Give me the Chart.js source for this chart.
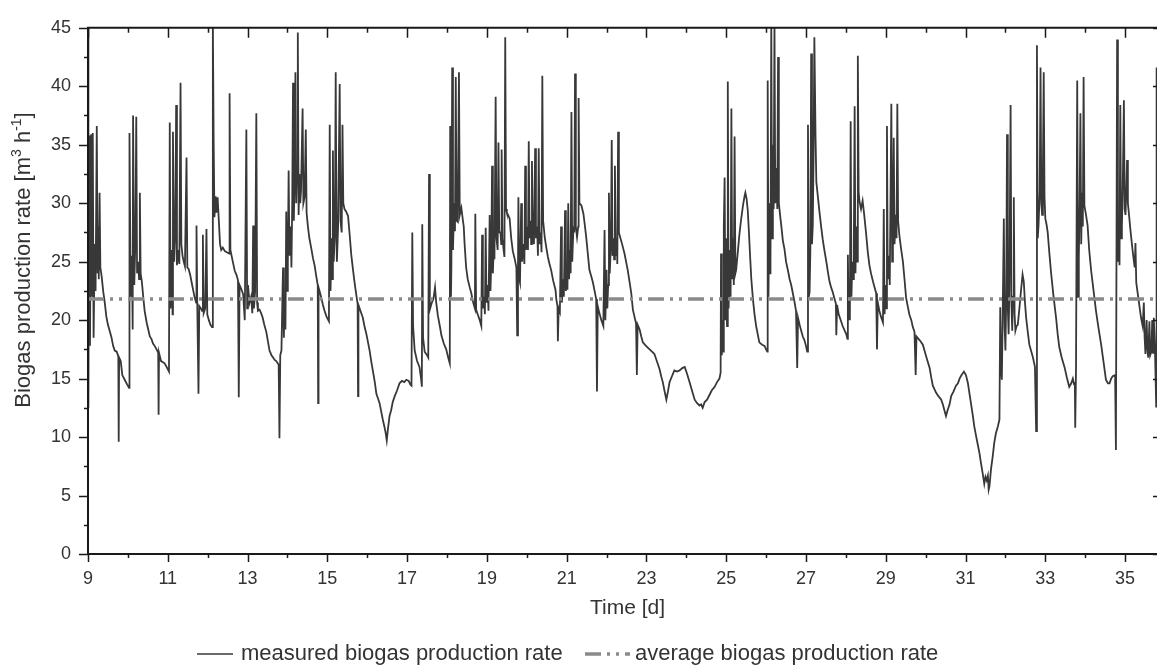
<!DOCTYPE html>
<html>
<head>
<meta charset="utf-8">
<script src="https://cdn.jsdelivr.net/npm/chart.js@4.4.1/dist/chart.umd.min.js"></script>
<style>
  html, body { margin: 0; padding: 0; background: #fff; }
  #wrap { width: 1159px; height: 666px; }
</style>
</head>
<body>
<div id="wrap"><canvas id="chart" width="1159" height="666"></canvas></div>
<script>
// ── data ──
const timeDays = [
  9.00, 9.01, 9.03, 9.05, 9.08, 9.10, 9.12, 9.14, 9.17, 9.19, 9.22, 9.24, 9.26, 9.27, 9.29, 9.31, 9.34, 9.38, 9.42, 9.46,
  9.50, 9.55, 9.59, 9.63, 9.67, 9.72, 9.76, 9.77, 9.78, 9.82, 9.86, 9.92, 9.98, 10.03, 10.04, 10.07, 10.10, 10.12, 10.13, 10.16,
  10.19, 10.21, 10.23, 10.26, 10.28, 10.30, 10.32, 10.35, 10.39, 10.42, 10.47, 10.51, 10.55, 10.59, 10.63, 10.67, 10.72, 10.76, 10.77, 10.78,
  10.83, 10.88, 10.92, 10.97, 11.03, 11.05, 11.07, 11.10, 11.12, 11.13, 11.16, 11.19, 11.21, 11.23, 11.26, 11.29, 11.32, 11.34, 11.37, 11.40,
  11.43, 11.47, 11.49, 11.52, 11.56, 11.60, 11.64, 11.67, 11.71, 11.72, 11.74, 11.77, 11.79, 11.83, 11.86, 11.88, 11.90, 11.94, 11.97, 11.99,
  12.03, 12.07, 12.11, 12.13, 12.15, 12.17, 12.20, 12.22, 12.25, 12.28, 12.31, 12.34, 12.38, 12.43, 12.48, 12.54, 12.55, 12.57, 12.63, 12.68,
  12.72, 12.76, 12.78, 12.80, 12.85, 12.89, 12.93, 12.97, 12.99, 13.01, 13.05, 13.09, 13.12, 13.14, 13.16, 13.19, 13.22, 13.24, 13.26, 13.30,
  13.34, 13.38, 13.42, 13.47, 13.51, 13.55, 13.60, 13.64, 13.68, 13.72, 13.76, 13.78, 13.80, 13.82, 13.85, 13.88, 13.89, 13.91, 13.93, 13.95,
  13.97, 13.99, 14.01, 14.03, 14.05, 14.08, 14.10, 14.12, 14.14, 14.16, 14.18, 14.20, 14.22, 14.24, 14.26, 14.28, 14.30, 14.32, 14.34, 14.38,
  14.40, 14.43, 14.46, 14.48, 14.51, 14.55, 14.60, 14.64, 14.68, 14.72, 14.76, 14.77, 14.78, 14.82, 14.85, 14.89, 14.93, 14.98, 15.04, 15.06,
  15.08, 15.11, 15.12, 15.14, 15.16, 15.19, 15.21, 15.23, 15.24, 15.27, 15.31, 15.33, 15.36, 15.38, 15.40, 15.43, 15.47, 15.52, 15.56, 15.60,
  15.64, 15.68, 15.72, 15.76, 15.77, 15.78, 15.83, 15.89, 15.93, 15.98, 16.02, 16.06, 16.10, 16.14, 16.19, 16.23, 16.27, 16.31, 16.35, 16.39,
  16.43, 16.46, 16.49, 16.52, 16.56, 16.60, 16.64, 16.69, 16.75, 16.81, 16.87, 16.93, 16.98, 17.04, 17.08, 17.11, 17.13, 17.15, 17.19, 17.25,
  17.31, 17.35, 17.37, 17.38, 17.40, 17.44, 17.50, 17.53, 17.55, 17.57, 17.62, 17.66, 17.70, 17.73, 17.77, 17.82, 17.86, 17.92, 17.98, 18.03,
  18.07, 18.08, 18.10, 18.11, 18.13, 18.15, 18.18, 18.20, 18.22, 18.24, 18.27, 18.30, 18.32, 18.36, 18.40, 18.42, 18.44, 18.48, 18.52, 18.57,
  18.61, 18.65, 18.70, 18.71, 18.73, 18.78, 18.82, 18.86, 18.88, 18.90, 18.93, 18.95, 18.97, 18.99, 19.02, 19.04, 19.07, 19.09, 19.11, 19.13,
  19.15, 19.17, 19.19, 19.22, 19.24, 19.27, 19.29, 19.31, 19.34, 19.36, 19.37, 19.39, 19.42, 19.44, 19.46, 19.48, 19.50, 19.53, 19.57, 19.61,
  19.65, 19.70, 19.74, 19.76, 19.78, 19.79, 19.81, 19.83, 19.86, 19.88, 19.91, 19.94, 19.96, 19.98, 20.01, 20.03, 20.05, 20.07, 20.10, 20.11,
  20.13, 20.15, 20.18, 20.21, 20.23, 20.26, 20.28, 20.30, 20.32, 20.35, 20.37, 20.39, 20.41, 20.45, 20.49, 20.53, 20.57, 20.61, 20.66, 20.72,
  20.74, 20.77, 20.78, 20.80, 20.83, 20.86, 20.88, 20.91, 20.93, 20.96, 20.98, 21.01, 21.02, 21.04, 21.06, 21.09, 21.10, 21.12, 21.14, 21.17,
  21.19, 21.21, 21.23, 21.26, 21.29, 21.30, 21.32, 21.37, 21.42, 21.46, 21.49, 21.53, 21.57, 21.62, 21.66, 21.70, 21.74, 21.76, 21.78, 21.82,
  21.87, 21.92, 21.95, 21.97, 22.00, 22.02, 22.04, 22.06, 22.08, 22.11, 22.13, 22.15, 22.18, 22.19, 22.21, 22.23, 22.26, 22.27, 22.29, 22.31,
  22.34, 22.39, 22.45, 22.49, 22.53, 22.58, 22.62, 22.66, 22.70, 22.74, 22.76, 22.78, 22.83, 22.87, 22.91, 22.96, 23.02, 23.08, 23.14, 23.20,
  23.26, 23.33, 23.37, 23.41, 23.45, 23.50, 23.54, 23.58, 23.64, 23.70, 23.77, 23.83, 23.90, 23.96, 24.02, 24.08, 24.14, 24.21, 24.27, 24.33,
  24.37, 24.41, 24.46, 24.52, 24.58, 24.64, 24.71, 24.77, 24.83, 24.86, 24.87, 24.89, 24.91, 24.92, 24.94, 24.96, 24.98, 25.00, 25.02, 25.04,
  25.06, 25.09, 25.11, 25.13, 25.15, 25.18, 25.19, 25.21, 25.23, 25.25, 25.29, 25.33, 25.37, 25.42, 25.46, 25.48, 25.51, 25.54, 25.57, 25.60,
  25.63, 25.67, 25.71, 25.75, 25.79, 25.83, 25.90, 25.96, 26.00, 26.03, 26.04, 26.06, 26.08, 26.10, 26.11, 26.13, 26.15, 26.17, 26.19, 26.21,
  26.23, 26.26, 26.28, 26.30, 26.32, 26.35, 26.38, 26.42, 26.46, 26.50, 26.55, 26.59, 26.63, 26.67, 26.71, 26.75, 26.78, 26.80, 26.84, 26.88,
  26.92, 26.96, 27.00, 27.03, 27.05, 27.07, 27.09, 27.11, 27.13, 27.15, 27.17, 27.19, 27.21, 27.24, 27.26, 27.30, 27.34, 27.38, 27.42, 27.46,
  27.51, 27.55, 27.59, 27.63, 27.67, 27.71, 27.75, 27.76, 27.78, 27.82, 27.88, 27.92, 27.97, 28.01, 28.04, 28.05, 28.07, 28.09, 28.10, 28.12,
  28.14, 28.16, 28.18, 28.20, 28.22, 28.24, 28.26, 28.28, 28.30, 28.32, 28.34, 28.38, 28.42, 28.46, 28.51, 28.55, 28.59, 28.63, 28.68, 28.72,
  28.76, 28.78, 28.80, 28.84, 28.88, 28.93, 28.95, 28.97, 29.00, 29.01, 29.03, 29.05, 29.08, 29.10, 29.14, 29.16, 29.18, 29.20, 29.22, 29.25,
  29.27, 29.29, 29.31, 29.34, 29.38, 29.43, 29.47, 29.51, 29.55, 29.59, 29.64, 29.68, 29.72, 29.75, 29.77, 29.82, 29.87, 29.93, 29.98, 30.03,
  30.10, 30.14, 30.18, 30.22, 30.26, 30.32, 30.39, 30.43, 30.47, 30.51, 30.55, 30.60, 30.64, 30.70, 30.76, 30.81, 30.85, 30.90, 30.96, 31.01,
  31.06, 31.10, 31.14, 31.18, 31.22, 31.27, 31.31, 31.35, 31.39, 31.43, 31.47, 31.50, 31.53, 31.56, 31.58, 31.60, 31.64, 31.68, 31.72, 31.76,
  31.81, 31.85, 31.87, 31.89, 31.91, 31.93, 31.96, 31.98, 32.00, 32.02, 32.04, 32.06, 32.08, 32.10, 32.13, 32.15, 32.17, 32.19, 32.21, 32.23,
  32.25, 32.28, 32.31, 32.35, 32.39, 32.43, 32.46, 32.49, 32.52, 32.56, 32.60, 32.65, 32.69, 32.74, 32.77, 32.79, 32.81, 32.83, 32.86, 32.88,
  32.90, 32.92, 32.94, 32.96, 32.98, 33.00, 33.03, 33.06, 33.10, 33.14, 33.20, 33.27, 33.31, 33.35, 33.41, 33.48, 33.54, 33.60, 33.65, 33.69,
  33.72, 33.74, 33.75, 33.77, 33.80, 33.82, 33.84, 33.86, 33.88, 33.90, 33.92, 33.94, 33.96, 33.98, 34.02, 34.06, 34.10, 34.15, 34.21, 34.27,
  34.33, 34.40, 34.46, 34.52, 34.57, 34.61, 34.65, 34.69, 34.75, 34.77, 34.80, 34.82, 34.84, 34.86, 34.88, 34.90, 34.92, 34.94, 34.97, 34.99,
  35.01, 35.03, 35.05, 35.07, 35.09, 35.14, 35.19, 35.24, 35.26, 35.28, 35.32, 35.36, 35.40, 35.44, 35.47, 35.49, 35.51, 35.54, 35.56, 35.58,
  35.61, 35.63, 35.66, 35.68, 35.70, 35.72, 35.75, 35.78, 35.79, 35.80
];
const rateMeasured = [
  45.5, 12.5, 35.8, 17.8, 35.9, 22.0, 36.0, 18.5, 26.5, 22.5, 36.6, 24.0, 28.0, 23.5, 30.9, 24.5, 23.8, 22.5, 21.5, 20.3,
  19.6, 19.0, 18.5, 17.8, 17.4, 17.3, 16.9, 9.6, 16.8, 16.5, 15.3, 14.9, 14.5, 14.2, 36.0, 22.0, 25.5, 19.2, 37.5, 23.0,
  27.0, 37.4, 24.0, 25.0, 23.5, 30.9, 24.0, 23.3, 21.8, 20.8, 19.8, 19.2, 18.6, 18.4, 18.0, 17.8, 17.5, 17.2, 11.9, 17.2,
  16.5, 16.4, 16.3, 16.0, 15.6, 36.9, 21.0, 26.0, 20.5, 36.1, 25.0, 27.5, 38.4, 24.7, 26.0, 24.8, 40.3, 26.5, 25.5, 25.0,
  24.6, 33.9, 24.5, 24.4, 23.9, 23.2, 22.5, 22.0, 21.5, 28.1, 21.2, 13.7, 21.2, 21.0, 20.8, 27.3, 20.6, 21.0, 27.8, 20.5,
  20.0, 19.6, 19.4, 45.5, 35.3, 28.8, 30.6, 29.2, 30.5, 28.5, 26.5, 26.0, 26.2, 25.9, 25.8, 25.7, 39.4, 26.0, 25.0, 24.2,
  23.9, 23.4, 13.4, 23.0, 22.6, 22.2, 20.0, 36.3, 21.0, 23.0, 21.5, 22.0, 20.6, 28.1, 21.0, 22.5, 37.7, 21.5, 20.8, 20.9,
  20.6, 20.2, 19.6, 19.0, 18.2, 17.4, 17.0, 16.8, 16.6, 16.5, 16.3, 16.2, 9.9, 17.0, 17.4, 23.0, 24.5, 18.5, 22.0, 19.2,
  29.3, 22.5, 25.0, 32.8, 25.5, 28.0, 24.5, 30.0, 40.3, 28.5, 32.0, 41.2, 30.0, 33.0, 44.6, 29.0, 32.5, 30.0, 31.0, 38.1,
  30.0, 30.5, 36.3, 29.2, 28.1, 27.0, 26.1, 25.3, 24.7, 23.8, 23.0, 12.9, 22.8, 22.3, 21.9, 21.3, 20.8, 20.3, 19.9, 36.7,
  22.5, 27.0, 23.5, 34.5, 25.0, 27.5, 41.2, 27.0, 25.0, 28.0, 40.2, 28.5, 27.5, 36.7, 30.0, 29.5, 29.3, 28.9, 27.3, 25.6,
  24.4, 23.3, 22.3, 21.4, 13.5, 21.3, 20.8, 20.2, 19.5, 18.8, 18.1, 17.4, 16.5, 15.7, 14.7, 13.7, 13.3, 12.9, 12.2, 11.5,
  10.9, 10.4, 9.7, 10.7, 11.8, 12.3, 13.0, 13.5, 14.0, 14.6, 14.8, 14.7, 14.9, 14.8, 14.5, 14.4, 27.5, 19.5, 17.4, 16.5,
  16.0, 15.0, 14.3, 28.2, 18.5, 17.3, 17.0, 16.8, 32.5, 20.9, 21.5, 21.8, 22.8, 21.5, 20.4, 19.5, 18.7, 18.0, 17.5, 16.8,
  16.3, 36.6, 22.0, 24.5, 41.6, 26.0, 30.0, 27.6, 40.8, 28.5, 28.4, 41.2, 29.0, 29.6, 28.5, 28.0, 26.6, 24.5, 23.5, 22.8,
  22.3, 21.6, 21.0, 29.1, 20.9, 20.4, 20.0, 19.5, 27.3, 21.0, 22.0, 20.5, 27.9, 21.5, 23.0, 20.8, 29.0, 22.5, 25.0, 33.2,
  24.0, 26.0, 25.2, 39.1, 27.0, 26.0, 35.2, 27.5, 27.5, 26.5, 34.6, 27.0, 26.0, 25.4, 44.2, 29.5, 29.2, 29.0, 28.7, 27.0,
  25.9, 25.2, 24.5, 18.7, 24.2, 30.5, 23.5, 23.2, 30.0, 25.0, 26.5, 24.8, 33.2, 26.0, 28.0, 26.0, 35.3, 27.0, 28.5, 26.5,
  33.6, 27.5, 26.5, 34.7, 27.0, 28.0, 25.5, 34.7, 26.5, 27.5, 25.8, 40.9, 28.5, 27.1, 26.2, 25.4, 24.8, 24.3, 23.4, 22.6,
  21.8, 21.2, 18.2, 21.0, 20.7, 28.0, 21.5, 23.5, 22.0, 29.4, 22.5, 24.0, 22.6, 30.0, 23.5, 26.0, 24.0, 37.8, 25.0, 28.0,
  27.5, 41.1, 28.0, 27.1, 28.0, 39.0, 30.0, 29.8, 29.1, 28.0, 27.1, 25.7, 24.3, 23.7, 23.2, 22.5, 21.8, 13.9, 21.2, 20.6,
  20.0, 19.5, 27.7, 20.0, 24.3, 21.0, 23.0, 30.9, 24.0, 26.5, 35.4, 25.5, 27.0, 25.2, 33.2, 25.5, 27.0, 24.8, 36.1, 27.5,
  27.1, 26.5, 25.7, 25.0, 24.3, 23.2, 22.3, 20.9, 20.3, 19.7, 15.3, 19.6, 19.2, 18.6, 18.1, 17.9, 17.7, 17.5, 17.3, 17.1,
  16.5, 15.8, 15.2, 14.7, 14.0, 13.2, 13.9, 14.7, 15.2, 15.7, 15.6, 15.7, 15.9, 16.0, 15.4, 14.7, 14.0, 13.2, 12.9, 12.7,
  12.8, 12.5, 13.0, 13.2, 13.6, 14.0, 14.3, 14.7, 15.0, 15.5, 25.7, 17.0, 20.0, 17.3, 28.0, 32.2, 20.0, 27.0, 19.5, 40.4,
  21.0, 26.0, 22.0, 38.1, 23.5, 27.0, 23.0, 35.7, 24.0, 24.3, 25.8, 27.3, 28.5, 29.8, 30.6, 30.9, 30.4, 29.4, 27.5, 25.4,
  23.5, 21.8, 20.5, 19.5, 18.8, 18.1, 17.9, 17.8, 17.5, 17.3, 40.5, 22.0, 30.0, 24.0, 25.2, 45.5, 27.0, 35.0, 29.5, 45.5,
  30.0, 33.0, 29.5, 42.5, 30.0, 29.0, 28.1, 26.8, 26.1, 25.0, 24.2, 23.5, 23.0, 22.3, 21.6, 20.8, 15.9, 20.2, 19.6, 19.1,
  18.6, 18.3, 17.8, 17.3, 36.7, 22.0, 22.4, 26.0, 42.8, 26.5, 28.1, 34.0, 44.2, 35.6, 31.8, 30.5, 29.2, 28.0, 26.9, 26.0,
  25.0, 24.1, 23.3, 22.8, 22.4, 21.9, 21.4, 18.7, 21.3, 20.5, 19.9, 19.5, 19.1, 18.8, 18.4, 25.6, 20.0, 23.0, 20.0, 37.0,
  22.0, 25.0, 23.5, 27.0, 38.3, 24.0, 28.0, 25.0, 42.6, 31.0, 30.2, 29.5, 30.2, 29.0, 27.3, 25.8, 24.7, 24.0, 23.3, 22.8,
  22.3, 17.5, 21.5, 20.8, 20.3, 19.8, 29.5, 20.5, 23.0, 21.0, 36.6, 23.5, 25.5, 23.0, 38.5, 25.0, 28.0, 35.6, 26.5, 29.0,
  27.0, 38.5, 28.5, 27.3, 26.2, 25.0, 23.5, 21.9, 21.2, 20.5, 20.0, 19.4, 19.0, 15.3, 18.6, 18.4, 18.2, 17.9, 17.3, 16.7,
  15.9, 15.1, 14.4, 14.1, 13.8, 13.5, 13.2, 12.8, 12.3, 11.8, 12.3, 12.8, 13.5, 13.9, 14.4, 14.6, 15.0, 15.3, 15.6, 15.3,
  14.6, 13.7, 12.8, 11.9, 10.9, 10.0, 9.3, 8.6, 7.7, 6.9, 6.0, 6.6, 6.3, 6.7, 5.5, 5.8, 7.3, 8.3, 9.5, 10.3,
  10.9, 11.5, 21.1, 16.0, 14.9, 20.0, 28.7, 19.5, 17.4, 22.0, 35.9, 21.0, 18.8, 23.0, 38.4, 21.5, 19.1, 22.0, 30.5, 20.5,
  19.1, 19.5, 19.6, 21.0, 22.5, 23.9, 23.3, 21.5, 20.2, 19.0, 17.9, 17.3, 16.8, 16.0, 10.5, 43.5, 27.0, 28.1, 31.0, 41.6,
  30.0, 29.0, 33.0, 41.2, 30.5, 28.7, 28.2, 27.5, 25.8, 24.2, 22.2, 20.2, 18.8, 17.7, 16.8, 16.0, 15.1, 14.3, 14.6, 15.0,
  14.5, 14.7, 10.8, 16.0, 40.5, 22.0, 25.3, 30.0, 37.7, 26.5, 30.9, 28.0, 40.8, 29.8, 29.0, 28.1, 26.0, 24.2, 22.5, 20.8,
  19.4, 17.9, 16.4, 14.9, 14.6, 14.6, 15.0, 15.2, 15.3, 8.9, 44.0, 25.0, 27.5, 24.7, 38.4, 27.0, 28.1, 31.0, 38.8, 29.5,
  29.0, 31.0, 33.7, 30.0, 29.3, 27.5, 25.9, 24.5, 26.6, 23.2, 22.2, 21.2, 20.2, 19.5, 21.5, 18.5, 17.1, 20.0, 17.5, 16.8,
  19.9, 17.0, 17.3, 20.0, 17.2, 20.2, 17.4, 12.6, 41.6, 12.6
];
const rateAverage = 21.8;
const timeRange = [9, 35.8];
const rateRange = [0, 45];
const xTickLabels = [9, 11, 13, 15, 17, 19, 21, 23, 25, 27, 29, 31, 33, 35];
const yTickLabels = [0, 5, 10, 15, 20, 25, 30, 35, 40, 45];
const xMinorStep = 1;
const yMinorStep = 2.5;

const FONT = "'Liberation Sans', Arial, Helvetica, sans-serif";
const TEXT = '#333333';
const LINE = '#383838';
const AVG = '#8a8a8a';
const AVG_DASH = [16, 6, 3, 6, 3, 6];

// ── axes frame, ticks, titles, legend ──
const decor = {
  id: 'decor',
  afterDraw(chart) {
    const { ctx, chartArea: a, scales: { x, y } } = chart;
    ctx.save();
    ctx.strokeStyle = '#1a1a1a';
    ctx.lineWidth = 2;
    ctx.beginPath();
    ctx.moveTo(a.left - 1, a.top); ctx.lineTo(a.right, a.top);
    ctx.moveTo(a.left, a.top); ctx.lineTo(a.left, a.bottom + 1);
    ctx.moveTo(a.left - 1, a.bottom); ctx.lineTo(a.right, a.bottom);
    ctx.stroke();

    ctx.lineWidth = 1.5;
    ctx.beginPath();
    for (let d = timeRange[0]; d <= timeRange[1]; d += xMinorStep) {
      const px = Math.round(x.getPixelForValue(d)) + 0.5;
      const major = xTickLabels.includes(d);
      ctx.moveTo(px, a.bottom); ctx.lineTo(px, a.bottom + (major ? 8 : 4));
      ctx.moveTo(px, a.top); ctx.lineTo(px, a.top + (major ? 10 : 5));
    }
    for (let v = rateRange[0]; v <= rateRange[1]; v += yMinorStep) {
      const py = Math.round(y.getPixelForValue(v)) + 0.5;
      const major = yTickLabels.includes(v);
      ctx.moveTo(a.left, py); ctx.lineTo(a.left - (major ? 9 : 4), py);
      if (major) { ctx.moveTo(a.right, py); ctx.lineTo(a.right - 4, py); }
    }
    ctx.stroke();

    // axis titles
    ctx.fillStyle = TEXT;
    ctx.textBaseline = 'middle';
    ctx.textAlign = 'center';
    ctx.font = '21px ' + FONT;
    ctx.fillText('Time [d]', (a.left + a.right) / 2 + 5, 608);

    ctx.save();
    ctx.translate(24, 260);
    ctx.rotate(-Math.PI / 2);
    const parts = [['Biogas production rate [m', false], ['3', true], [' h', false], ['-1', true], [']', false]];
    const big = '22px ' + FONT, small = '14px ' + FONT;
    let total = 0;
    parts.forEach(([s, sup]) => { ctx.font = sup ? small : big; total += ctx.measureText(s).width; });
    let cx = -total / 2;
    ctx.textAlign = 'left';
    parts.forEach(([s, sup]) => {
      ctx.font = sup ? small : big;
      ctx.fillText(s, cx, sup ? -7 : 0);
      cx += ctx.measureText(s).width;
    });
    ctx.restore();

    // legend
    const ly = 654;
    ctx.font = '22px ' + FONT;
    ctx.textAlign = 'left';
    ctx.strokeStyle = LINE;
    ctx.lineWidth = 1.5;
    ctx.beginPath(); ctx.moveTo(197, ly); ctx.lineTo(233, ly); ctx.stroke();
    ctx.fillText('measured biogas production rate', 241, ly);
    ctx.strokeStyle = AVG;
    ctx.lineWidth = 3.5;
    ctx.setLineDash(AVG_DASH);
    ctx.beginPath(); ctx.moveTo(585, ly); ctx.lineTo(630, ly); ctx.stroke();
    ctx.setLineDash([]);
    ctx.fillText('average biogas production rate', 635, ly);
    ctx.restore();
  }
};

new Chart(document.getElementById('chart'), {
  type: 'line',
  data: {
    datasets: [
      {
        label: 'average biogas production rate',
        data: timeRange.map(t => ({ x: t, y: rateAverage })),
        borderColor: AVG, borderWidth: 3.5, borderDash: AVG_DASH,
        pointRadius: 0, order: 0
      },
      {
        label: 'measured biogas production rate',
        data: timeDays.map((t, i) => ({ x: t, y: rateMeasured[i] })),
        borderColor: LINE, borderWidth: 1.8, tension: 0,
        pointRadius: 0, clip: 0, order: 1
      }
    ]
  },
  options: {
    responsive: false, devicePixelRatio: 1, animation: false,
    layout: { padding: { top: 22, right: 2, left: 0, bottom: 0 } },
    plugins: { legend: { display: false }, tooltip: { enabled: false } },
    scales: {
      x: {
        type: 'linear', min: timeRange[0], max: timeRange[1],
        grid: { display: false, drawTicks: false }, border: { display: false },
        afterBuildTicks: s => { s.ticks = xTickLabels.map(v => ({ value: v })); },
        afterFit: s => { s.height = 112; },
        ticks: { font: { family: FONT, size: 18 }, color: TEXT, padding: 14, maxRotation: 0, autoSkip: false }
      },
      y: {
        min: rateRange[0], max: rateRange[1],
        grid: { display: false, drawTicks: false }, border: { display: false },
        afterBuildTicks: s => { s.ticks = yTickLabels.map(v => ({ value: v })); },
        afterFit: s => { s.width = 88; },
        ticks: { font: { family: FONT, size: 18 }, color: TEXT, padding: 17 }
      }
    }
  },
  plugins: [decor]
});
</script>
</body>
</html>
